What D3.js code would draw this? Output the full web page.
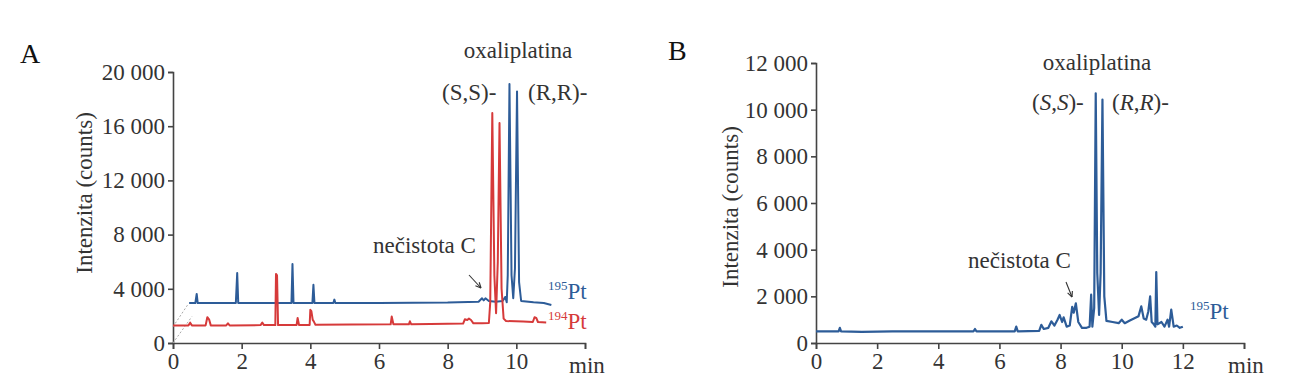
<!DOCTYPE html>
<html>
<head>
<meta charset="utf-8">
<script src="https://cdn.jsdelivr.net/npm/d3@7"></script>
<style>
  body { margin: 0; background: #fff; }
  svg, svg text { font-family: 'Liberation Serif', 'Times New Roman', Times, 'DejaVu Serif', serif; fill: #333; }
  .axis path, .axis line { stroke: #444; stroke-width: 1.6; }
  .axis text { font-size: 23px; fill: #333; }
</style>
</head>
<body>
<script>
// --- data ---
// panel A, 194Pt trace (red)
var timeA194 = [0, 0.45, 0.5, 0.55, 0.95, 1.0, 1.05, 1.1, 1.55, 1.6, 1.65, 2.55, 2.6, 2.65, 2.98, 3.0, 3.03, 3.06,
  3.6, 3.63, 3.67, 3.98, 4.0, 4.03, 4.07, 4.1, 4.15, 5.2, 6.34, 6.37, 6.42, 6.87, 6.9, 6.94, 7.5, 8.0,
  8.45, 8.5, 8.57, 8.62, 8.68, 8.75, 9.0, 9.2, 9.24, 9.3, 9.36, 9.41, 9.46, 9.51, 9.57, 9.63, 9.7, 10.2,
  10.48, 10.53, 10.58, 10.63, 10.87];
var valA194 = [1300, 1300, 1500, 1300, 1300, 1900, 1750, 1300, 1300, 1450, 1300, 1320, 1500, 1320, 1320, 5100, 5000, 1320,
  1330, 1850, 1330, 1330, 2450, 2350, 1700, 1600, 1340, 1360, 1380, 1950, 1380, 1380, 1600, 1380, 1400, 1420,
  1430, 1750, 1700, 1800, 1700, 1450, 1450, 1480, 3000, 16970, 5000, 2200, 6000, 16230, 4000, 1800, 1620, 1580,
  1550, 1900, 1850, 1550, 1520];
// panel A, 195Pt trace (blue, offset)
var timeA195 = [0.47, 0.65, 0.69, 0.72, 1.83, 1.87, 1.9, 3.45, 3.48, 3.51, 4.06, 4.09, 4.12, 4.67, 4.7, 4.73, 6.0, 8.0,
  8.9, 9.0, 9.05, 9.1, 9.2, 9.4, 9.6, 9.68, 9.72, 9.75, 9.8, 9.86, 9.91, 9.96, 10.02, 10.08, 10.14, 10.5, 10.8, 11.02];
var valA195 = [2950, 2950, 3620, 2950, 2950, 5170, 2950, 2950, 5830, 2950, 2950, 4300, 2950, 2950, 3200, 2950, 2950, 2980,
  3050, 3300, 3150, 3300, 3100, 3050, 3100, 3400, 3000, 5000, 19110, 5000, 3300, 5500, 18570, 4500, 3100, 3000, 2950, 2800];
// panel B, 195Pt trace
var timeB = [0, 0.74, 0.78, 0.82, 1.5, 2.5, 5.15, 5.2, 5.25, 6.5, 6.55, 6.6, 7.3, 7.37, 7.45, 7.6, 7.7, 7.8, 7.9, 7.97,
  8.05, 8.1, 8.2, 8.3, 8.38, 8.43, 8.5, 8.58, 8.7, 8.85, 8.95, 9.0, 9.04, 9.1, 9.15, 9.2, 9.26, 9.31, 9.37, 9.43,
  9.5, 9.7, 9.9, 10.0, 10.1, 10.25, 10.4, 10.55, 10.64, 10.72, 10.8, 10.87, 10.93, 10.98, 11.05, 11.1, 11.13, 11.17,
  11.3, 11.4, 11.5, 11.55, 11.62, 11.7, 11.8, 11.9, 12.0];
var valB = [500, 500, 650, 500, 480, 500, 500, 600, 500, 500, 700, 500, 520, 780, 600, 650, 930, 750, 1000, 1200,
  900, 1100, 700, 750, 1550, 1300, 1700, 900, 650, 650, 700, 2070, 700, 1500, 10700, 3000, 1200, 3000, 10430, 2000,
  950, 900, 850, 1000, 850, 950, 1050, 1150, 1570, 1050, 1000, 1350, 2000, 900, 800, 700, 3040, 800,
  900, 700, 1000, 700, 1430, 700, 750, 650, 700];

var ticksA = [0, 4000, 8000, 12000, 16000, 20000];
var ticksB = [0, 2000, 4000, 6000, 8000, 10000, 12000];
var xTicksA = [0, 2, 4, 6, 8, 10, 12];
var xTicksB = [0, 2, 4, 6, 8, 10, 12, 14];

var blue = "#2d5c98", red = "#d63a3a";
var serif = "'Liberation Serif', 'Times New Roman', Times, serif";
var fmt = d3.formatLocale({decimal: ".", thousands: " ", grouping: [3], currency: ["", ""]}).format(",");

var svg = d3.select("body").append("svg")
    .attr("width", 1293).attr("height", 387)
    .attr("font-family", serif);

function zip(t, v) { return t.map(function(d, i) { return [d, v[i]]; }); }

function label(xp, yp, size) {
    return svg.append("text").attr("x", xp).attr("y", yp)
        .style("font-family", serif).style("font-size", size + "px");
}

function panel(o) {
    var x = d3.scaleLinear().domain([0, o.xmax]).range([o.x0, o.x1]);
    var y = d3.scaleLinear().domain([0, o.ymax]).range([o.y0, o.y1]);

    svg.append("g").attr("class", "axis")
        .attr("transform", "translate(0," + o.y0 + ")")
        .call(d3.axisBottom(x).tickValues(o.xticks).tickSize(6).tickPadding(4)
            .tickFormat(function(d) { return d == o.xmax ? "" : d; }));
    svg.append("g").attr("class", "axis")
        .attr("transform", "translate(" + o.x0 + ",0)")
        .call(d3.axisLeft(y).tickValues(o.yticks).tickSize(5).tickPadding(3).tickFormat(fmt));
    svg.selectAll(".axis").attr("font-family", serif).attr("font-size", 23);

    label(o.x1 - 16, o.y0 + 30, 23).text("min");
    svg.append("text")
        .attr("transform", "translate(" + o.ylx + "," + o.yly + ") rotate(-90)")
        .attr("text-anchor", "middle").style("font-family", serif).style("font-size", "23px")
        .text("Intenzita (counts)");
    return {x: x, y: y};
}

var line = function(s) {
    return d3.line().x(function(d) { return s.x(d[0]); }).y(function(d) { return s.y(d[1]); });
};

// ---------- panel A ----------
var sA = panel({x0: 173, x1: 585, y0: 343, y1: 72, xmax: 12, ymax: 20000,
    xticks: xTicksA, yticks: ticksA, ylx: 92, yly: 193});

// perspective guide lines
svg.append("line").attr("x1", sA.x(0)).attr("y1", sA.y(0)).attr("x2", sA.x(0.55)).attr("y2", sA.y(1950))
    .attr("stroke", "#aaa").attr("stroke-dasharray", "2,2");
svg.append("line").attr("x1", sA.x(0)).attr("y1", sA.y(1200)).attr("x2", sA.x(0.45)).attr("y2", sA.y(2900))
    .attr("stroke", "#aaa").attr("stroke-dasharray", "2,2");

svg.append("path").datum(zip(timeA195, valA195)).attr("d", line(sA))
    .attr("fill", "none").attr("stroke", blue).attr("stroke-width", 2).attr("stroke-linejoin", "round");
svg.append("path").datum(zip(timeA194, valA194)).attr("d", line(sA))
    .attr("fill", "none").attr("stroke", red).attr("stroke-width", 2).attr("stroke-linejoin", "round");

label(20, 63, 28).style("fill", "#111").text("A");
label(518, 58, 23).attr("text-anchor", "middle").text("oxaliplatina");
label(442, 100, 23).text("(S,S)-");
label(528, 100, 23).text("(R,R)-");
label(373, 253, 23).text("nečistota C");

function isotope(xp, yp, mass, col) {
    var t = label(xp, yp, 23);
    t.append("tspan").attr("dy", -9).style("font-size", "13px").style("fill", col).text(mass);
    t.append("tspan").attr("dy", 9).style("fill", col).text("Pt");
}
isotope(548, 299, "195", blue);
isotope(548, 329, "194", red);

function arrow(x1, y1, x2, y2) {
    svg.append("line").attr("x1", x1).attr("y1", y1).attr("x2", x2).attr("y2", y2)
        .attr("stroke", "#333").attr("stroke-width", 1.1);
    var a = Math.atan2(y2 - y1, x2 - x1), L = 6;
    [a + 2.7, a - 2.7].forEach(function(b) {
        svg.append("line").attr("x1", x2).attr("y1", y2)
            .attr("x2", x2 + L * Math.cos(b)).attr("y2", y2 + L * Math.sin(b))
            .attr("stroke", "#333").attr("stroke-width", 1.1);
    });
}
arrow(469, 275, 481, 288);

// ---------- panel B ----------
var sB = panel({x0: 816, x1: 1244, y0: 343, y1: 63, xmax: 14, ymax: 12000,
    xticks: xTicksB, yticks: ticksB, ylx: 738, yly: 207});

svg.append("path").datum(zip(timeB, valB)).attr("d", line(sB))
    .attr("fill", "none").attr("stroke", blue).attr("stroke-width", 2.2).attr("stroke-linejoin", "round");

label(668, 60, 28).style("fill", "#111").text("B");
label(1097, 70, 23).attr("text-anchor", "middle").text("oxaliplatina");
var ss = label(1032, 110, 23);
ss.append("tspan").text("(");
ss.append("tspan").style("font-style", "italic").text("S");
ss.append("tspan").text(",");
ss.append("tspan").style("font-style", "italic").text("S");
ss.append("tspan").text(")-");
var rr = label(1112, 110, 23);
rr.append("tspan").text("(");
rr.append("tspan").style("font-style", "italic").text("R");
rr.append("tspan").text(",");
rr.append("tspan").style("font-style", "italic").text("R");
rr.append("tspan").text(")-");
label(968, 268, 23).text("nečistota C");
arrow(1066, 282, 1072, 297);
isotope(1190, 319, "195", blue);
</script>
</body>
</html>
